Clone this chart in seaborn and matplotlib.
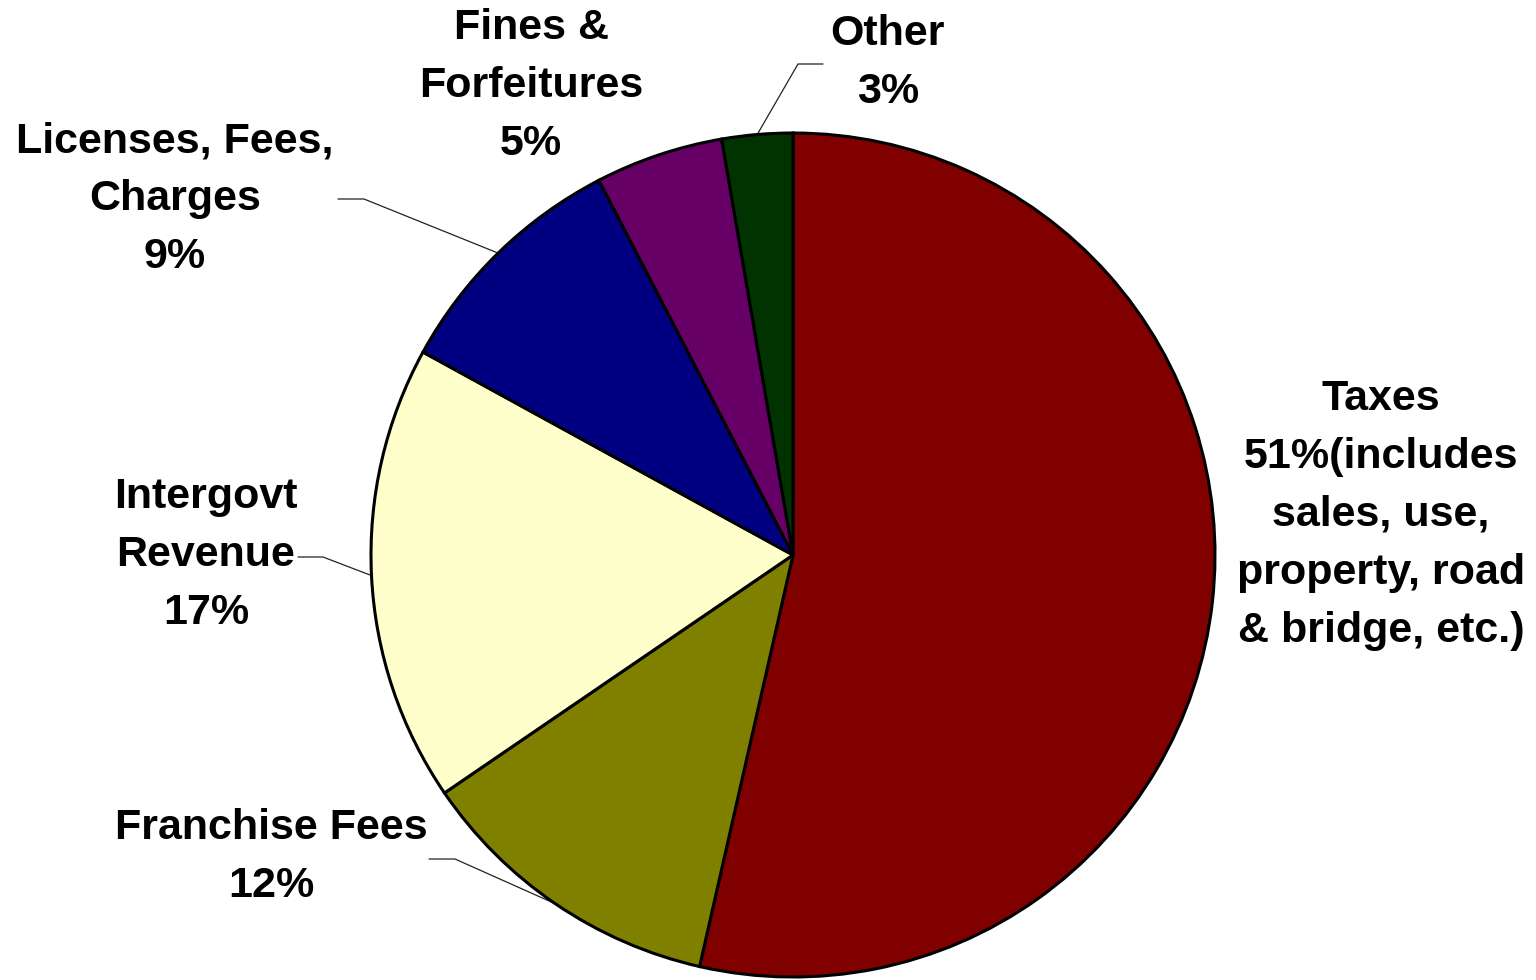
import numpy as np
import matplotlib
matplotlib.use("Agg")
import matplotlib.pyplot as plt
import seaborn as sns

sns.set_theme(style="white")
plt.rcParams['font.family'] = ['Liberation Sans', 'DejaVu Sans']

# ---- data ----
categories = ["Taxes", "Franchise Fees", "Intergovt Revenue",
              "Licenses, Fees, Charges", "Fines & Forfeitures", "Other"]
values = [53.5, 11.9, 17.5, 9.4, 4.9, 2.7]
labels = [
    "Taxes\n51%(includes\nsales, use,\nproperty, road\n& bridge, etc.)",
    "Franchise Fees\n12%",
    "Intergovt\nRevenue\n17%",
    "Licenses, Fees,\nCharges\n9%",
    "Fines &\nForfeitures\n5%",
    "Other\n3%",
]
colors = ["#800000", "#808000", "#FFFFCC", "#000080", "#660066", "#003300"]

# ---- layout (pixel units, y measured from top) ----
W, H = 1536, 980
center_px = (793, 555)
radius = 422
label_pos = [(1381, 515), (271, 857), (206, 555), (175, 199), (531, 86), (888, 63)]
# leader elbows/ends (None = no leader line)
leaders = [None, ((455, 859), (429, 859)), ((323, 557), (298, 557)),
           ((364, 199), (338, 199)), None, ((798, 64), (823, 64))]

fig = plt.figure(figsize=(W / 100, H / 100), dpi=100)
ax = fig.add_axes([0, 0, 1, 1])

cx, cy = center_px[0], H - center_px[1]
wedges, _ = ax.pie(values, colors=colors, startangle=90, counterclock=False,
                   center=(cx, cy), radius=radius,
                   wedgeprops=dict(edgecolor="black", linewidth=2.2))

ax.set_xlim(0, W)
ax.set_ylim(0, H)
ax.set_aspect("equal")
ax.axis("off")

for w, lab, pos, ld in zip(wedges, labels, label_pos, leaders):
    ax.text(pos[0], H - pos[1], lab, ha="center", va="center",
            multialignment="center", fontsize=31, fontweight="bold",
            color="black", linespacing=1.58)
    if ld is not None:
        mid = np.deg2rad((w.theta1 + w.theta2) / 2)
        sx = cx + radius * np.cos(mid)
        sy = cy + radius * np.sin(mid)
        xs = [sx, ld[0][0], ld[1][0]]
        ys = [sy, H - ld[0][1], H - ld[1][1]]
        ax.plot(xs, ys, color="#222222", linewidth=0.9, zorder=0.5)

fig.savefig("out.png", dpi=100, facecolor="white")
